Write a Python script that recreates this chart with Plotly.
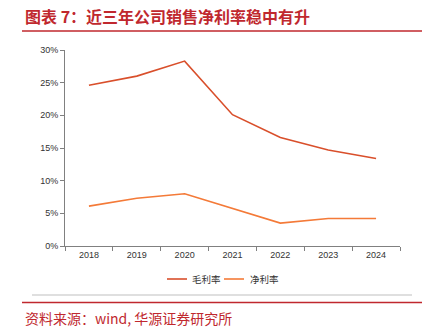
import plotly.graph_objects as go

years = ["2018", "2019", "2020", "2021", "2022", "2023", "2024"]
gross_margin = [24.6, 26.0, 28.3, 20.1, 16.6, 14.7, 13.4]
net_margin = [6.1, 7.3, 8.0, 5.7, 3.5, 4.2, 4.2]
y_ticks = [0, 5, 10, 15, 20, 25, 30]
y_tick_labels = [f"{v}%" for v in y_ticks]
series_names = ["毛利率", "净利率"]
series_colors = ["#D94F2B", "#F47A38"]

W, H = 428, 332
L, R, T, B = 65, 28, 50, 86
pw, ph = W - L - R, H - T - B

def px(x):
    return (x - L) / pw

def py(y):
    return (H - B - y) / ph

fig = go.Figure()
for name, vals, col in zip(series_names, [gross_margin, net_margin], series_colors):
    fig.add_trace(go.Scatter(x=years, y=vals, mode="lines", name=name,
                             line=dict(color=col, width=1.6), showlegend=False))

font_family = "Liberation Sans, Arial, Noto Sans CJK SC, sans-serif"

fig.update_layout(
    width=W, height=H,
    margin=dict(l=L, r=R, t=T, b=B),
    paper_bgcolor="white", plot_bgcolor="white",
    font=dict(family=font_family, size=9, color="#333333"),
    showlegend=False,
    xaxis=dict(type="category", range=[-0.5, 6.5], showgrid=False, showline=True,
               linecolor="#808080", linewidth=1, ticks="outside", tickson="boundaries",
               ticklen=4, tickcolor="#808080", tickfont=dict(size=9, color="#333333"),
               zeroline=False, fixedrange=True),
    yaxis=dict(range=[0, 30], tickvals=y_ticks, ticktext=y_tick_labels, showgrid=False,
               showline=True, linecolor="#808080", linewidth=1, ticks="outside",
               ticklen=4, tickcolor="#808080", tickfont=dict(size=9, color="#333333"),
               zeroline=False, fixedrange=True),
)

# manual legend
legend_items = [(167, 187, 190), (224, 244, 248)]
for (x0, x1, tx), name, col in zip(legend_items, series_names, series_colors):
    fig.add_shape(type="line", xref="paper", yref="paper", x0=px(x0), x1=px(x1),
                  y0=py(279), y1=py(279), line=dict(color=col, width=1.6))
    fig.add_annotation(text=name, xref="paper", yref="paper", x=px(tx), y=py(279),
                       xanchor="left", yanchor="middle", showarrow=False,
                       font=dict(size=9.5, color="#333333", family="Noto Sans CJK SC, sans-serif"))

title_color = "#C0282E"
fig.add_annotation(text="<b>图表 7：近三年公司销售净利率稳中有升</b>", xref="paper", yref="paper",
                   x=px(23), y=py(16), xanchor="left", yanchor="middle", showarrow=False,
                   font=dict(size=16, color=title_color, family="Noto Sans CJK SC, sans-serif"))
fig.add_annotation(text="资料来源：wind, 华源证券研究所", xref="paper", yref="paper",
                   x=px(23), y=py(318), xanchor="left", yanchor="middle", showarrow=False,
                   font=dict(size=14, color=title_color, family="Noto Sans CJK SC, sans-serif"))

fig.add_shape(type="line", xref="paper", yref="paper", x0=px(22), x1=px(422), y0=py(31), y1=py(31),
              line=dict(color=title_color, width=1.5))
fig.add_shape(type="line", xref="paper", yref="paper", x0=px(32), x1=px(412), y0=py(295), y1=py(295),
              line=dict(color="#BFBFBF", width=1.2))
fig.add_shape(type="line", xref="paper", yref="paper", x0=px(22), x1=px(422), y0=py(302.5), y1=py(302.5),
              line=dict(color=title_color, width=1.5))

fig.write_html("out.html")
